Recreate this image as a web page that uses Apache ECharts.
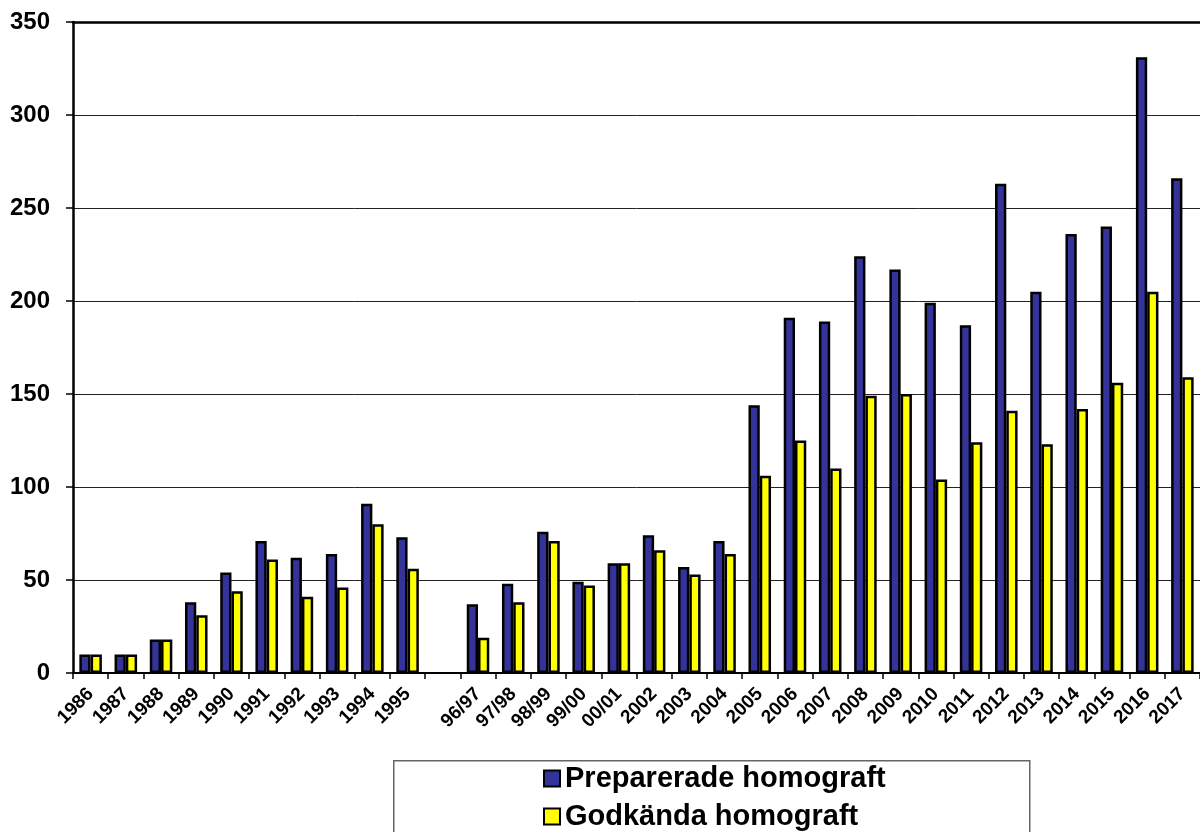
<!DOCTYPE html>
<html>
<head>
<meta charset="utf-8">
<script src="https://cdn.jsdelivr.net/npm/echarts@6/dist/echarts.min.js"></script>
<style>html,body{margin:0;padding:0;background:#fff;}#c{width:1200px;height:832px;}</style>
</head>
<body>
<div id="c"></div>
<script>
const categories = ['1986','1987','1988','1989','1990','1991','1992','1993','1994','1995','',
  '96/97','97/98','98/99','99/00','00/01','2002','2003','2004','2005','2006','2007','2008','2009',
  '2010','2011','2012','2013','2014','2015','2016','2017'];
const preparerade = [10,10,18,38,54,71,62,64,91,73,null,
  37,48,76,49,59,74,57,71,144,191,189,224,217,199,187,263,205,236,240,331,266];
const godkanda = [10,10,18,31,44,61,41,46,80,56,null,
  19,38,71,47,59,66,53,64,106,125,110,149,150,104,124,141,123,142,156,205,159];
const seriesNames = ['Preparerade homograft','Godkända homograft'];

const chart = echarts.init(document.getElementById('c'));
const font = 'Liberation Sans, Arial, sans-serif';
chart.setOption({
  animation: false,
  backgroundColor: '#fff',
  grid: {left: 73, right: 0, top: 22, bottom: 159, containLabel: false},
  graphic: [{
    type: 'rect', left: 393, top: 760, z: 0,
    shape: {width: 636, height: 100},
    style: {fill: '#fff', stroke: '#666', lineWidth: 1.5}
  }],
  legend: {
    orient: 'vertical', left: 543, top: 764, itemGap: 9, padding: 0,
    itemWidth: 16, itemHeight: 16, z: 10,
    icon: 'rect',
    itemStyle: {borderColor: '#000', borderWidth: 2},
    textStyle: {fontFamily: font, fontWeight: 'bold', fontSize: 29, color: '#000', lineHeight: 28},
    data: seriesNames
  },
  xAxis: [{
    type: 'category', data: categories,
    axisLine: {show: true, lineStyle: {color: '#000', width: 2}},
    axisTick: {show: true, length: 6, lineStyle: {color: '#000', width: 1.5}},
    axisLabel: {interval: 0, rotate: 45, margin: 18, fontFamily: font, fontWeight: 'bold', fontSize: 19, color: '#000'}
  }, {
    type: 'category', position: 'top', data: categories,
    axisLine: {show: true, lineStyle: {color: '#000', width: 2.5}},
    axisTick: {show: false}, axisLabel: {show: false}
  }],
  yAxis: {
    type: 'value', min: 0, max: 350, interval: 50,
    axisLine: {show: true, lineStyle: {color: '#000', width: 2.5}},
    axisTick: {show: true, length: 7, lineStyle: {color: '#000', width: 1.5}},
    axisLabel: {margin: 23, fontFamily: font, fontWeight: 'bold', fontSize: 24, color: '#000'},
    splitLine: {show: true, lineStyle: {color: '#222', width: 1}}
  },
  series: [{
    name: seriesNames[0], type: 'bar', data: preparerade,
    barGap: '0%', barCategoryGap: '36%',
    itemStyle: {color: '#333399', borderColor: '#000', borderWidth: 2.5}
  }, {
    name: seriesNames[1], type: 'bar', data: godkanda,
    itemStyle: {color: '#ffff00', borderColor: '#000', borderWidth: 2.5}
  }]
});
</script>
</body>
</html>
